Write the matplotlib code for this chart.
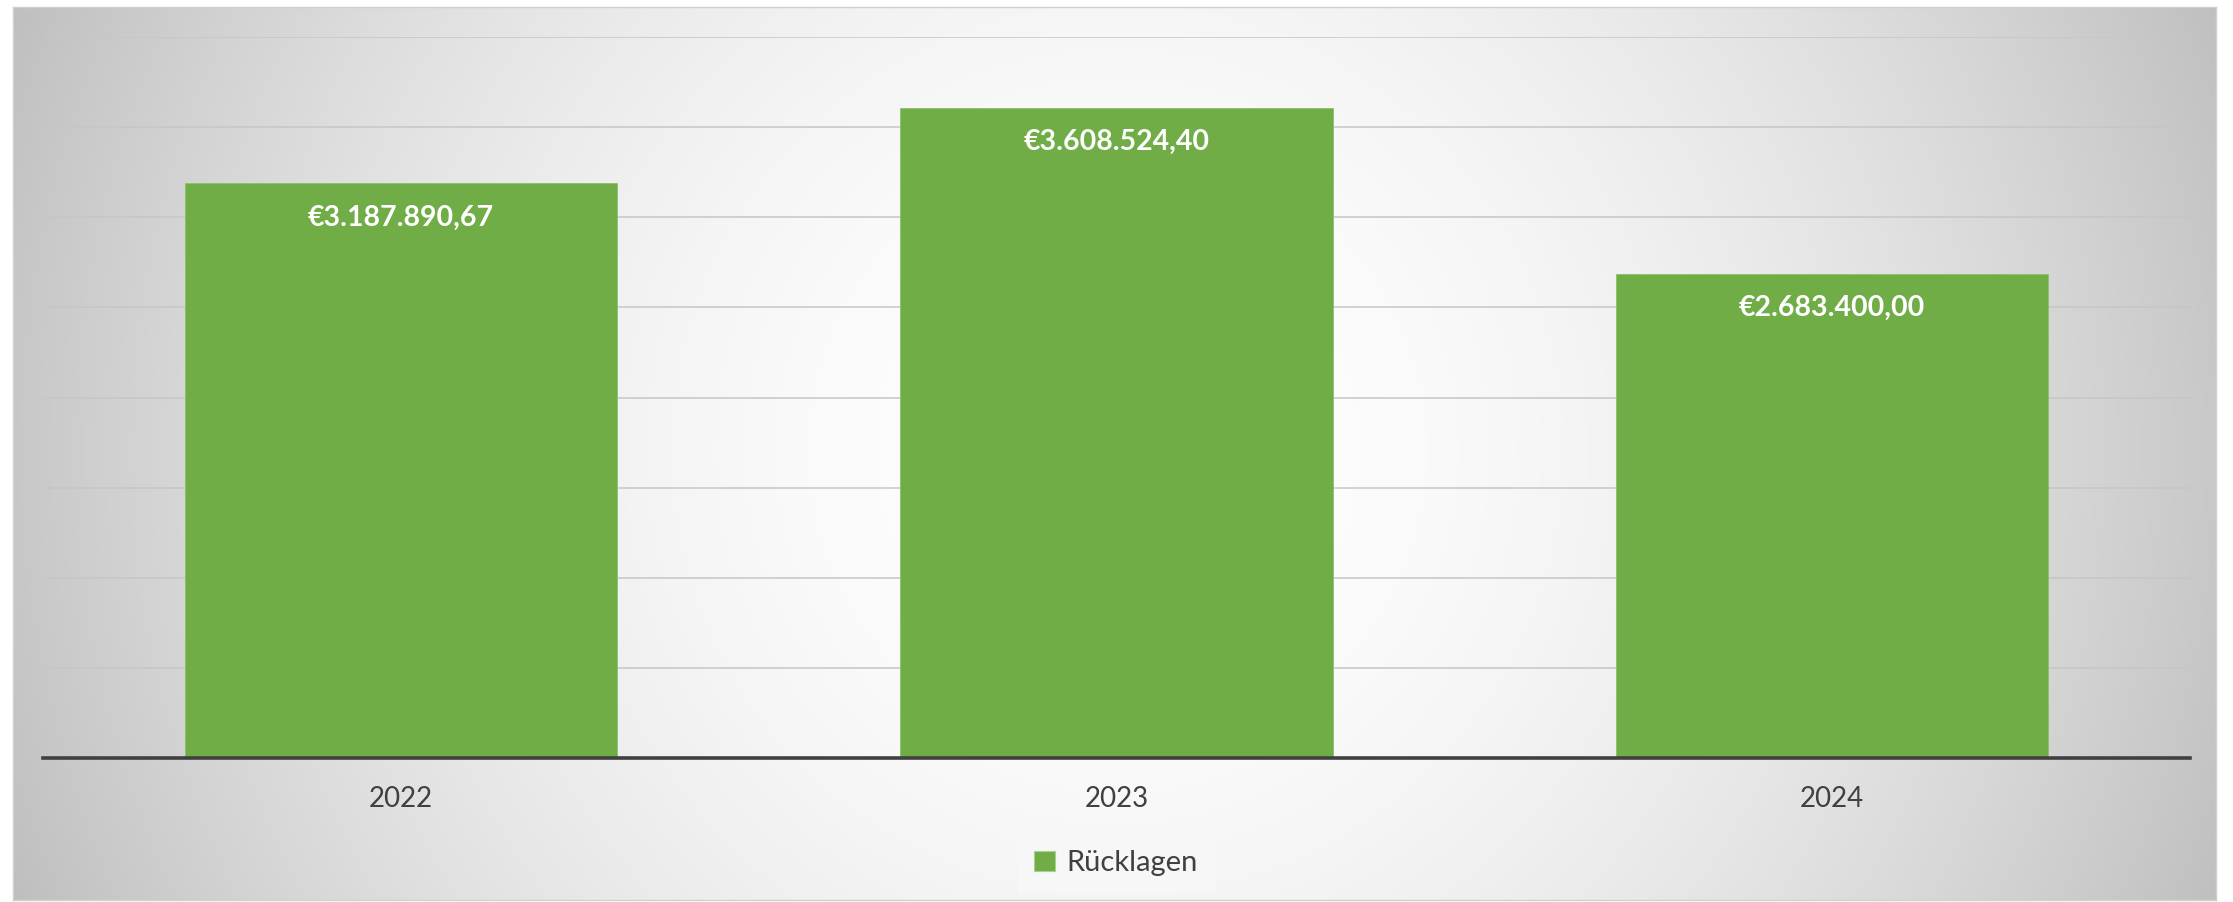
import numpy as np
import matplotlib
matplotlib.use("Agg")
import matplotlib.pyplot as plt
from matplotlib.patches import Patch

categories = ["2022", "2023", "2024"]
values = [3187890.67, 3608524.40, 2683400.00]
labels = ["€3.187.890,67", "€3.608.524,40", "€2.683.400,00"]
series_name = "Rücklagen"

W, H = 2233, 902
fig = plt.figure(figsize=(W / 100, H / 100), dpi=100)
fig.patch.set_facecolor("white")

# panel background with radial gradient
px0, px1, py0, py1 = 13, 2216, 7, 900
bg = fig.add_axes([px0 / W, (H - py1) / H, (px1 - px0) / W, (py1 - py0) / H])
xx, yy = np.meshgrid(np.arange(px0, px1, 2), np.arange(py0, py1, 2))
cx, cy = 1117, 450
d = np.hypot(xx - cx, yy - cy) / 1190.0
g = 255 - 64 * np.clip(d, 0, 1.1) ** 1.9
img = np.dstack([g, g, g]) / 255.0
bg.imshow(np.clip(img, 0, 1), aspect="auto", extent=[0, 1, 0, 1], interpolation="bilinear")
bg.set_xticks([]); bg.set_yticks([])
for s in bg.spines.values():
    s.set_color("#d0d0d0"); s.set_linewidth(1)
bg.set_zorder(0)

# main axes
ax0, ax1, ay_top, ay_bot = 43, 2190, 37, 758
ax = fig.add_axes([ax0 / W, (H - ay_bot) / H, (ax1 - ax0) / W, (ay_bot - ay_top) / H])
ax.set_zorder(1)
ax.patch.set_alpha(0)
x = np.arange(len(categories))
bars = ax.bar(x, values, width=0.604, color="#70AD47", edgecolor="#8cc068", linewidth=0.6, zorder=3)
ax.set_xlim(-0.5, 2.5)
ax.set_ylim(0, 4000000)
ax.set_yticks(np.arange(0, 4000001, 500000))
ax.yaxis.grid(True, color="#c6c6c6", linewidth=1.1, zorder=0)
ax.set_axisbelow(True)
ax.tick_params(axis="y", length=0, labelleft=False)
ax.tick_params(axis="x", length=0, pad=20, labelsize=20, labelcolor="#404040")
ax.set_xticks(x)
ax.set_xticklabels(categories, fontfamily="Lato")
for s in ["top", "right", "left"]:
    ax.spines[s].set_visible(False)
ax.spines["bottom"].set_color("#404040")
ax.spines["bottom"].set_linewidth(2.6)
ax.spines["bottom"].set_zorder(4)

for xi, v, lab in zip(x, values, labels):
    ax.annotate(lab, (xi, v), xytext=(0, -34 * 0.72), textcoords="offset points",
                ha="center", va="center", color="white", fontsize=20.5,
                fontweight="bold", fontfamily="Lato", zorder=5)

handle = Patch(facecolor="#70AD47", edgecolor="#a9d18e", linewidth=0.8)
leg = fig.legend([handle], [series_name], loc="center", bbox_to_anchor=(1116 / W, (H - 863) / H),
                 frameon=True, fancybox=False, handlelength=0.7, handleheight=0.7,
                 handletextpad=0.4, borderpad=0.55, borderaxespad=0,
                 prop={"family": "Lato", "size": 21})
leg.get_frame().set_facecolor("#f8f8f8")
leg.get_frame().set_edgecolor("#f8f8f8")
for t in leg.get_texts():
    t.set_color("#404040")

fig.savefig("out.png", dpi=100)
